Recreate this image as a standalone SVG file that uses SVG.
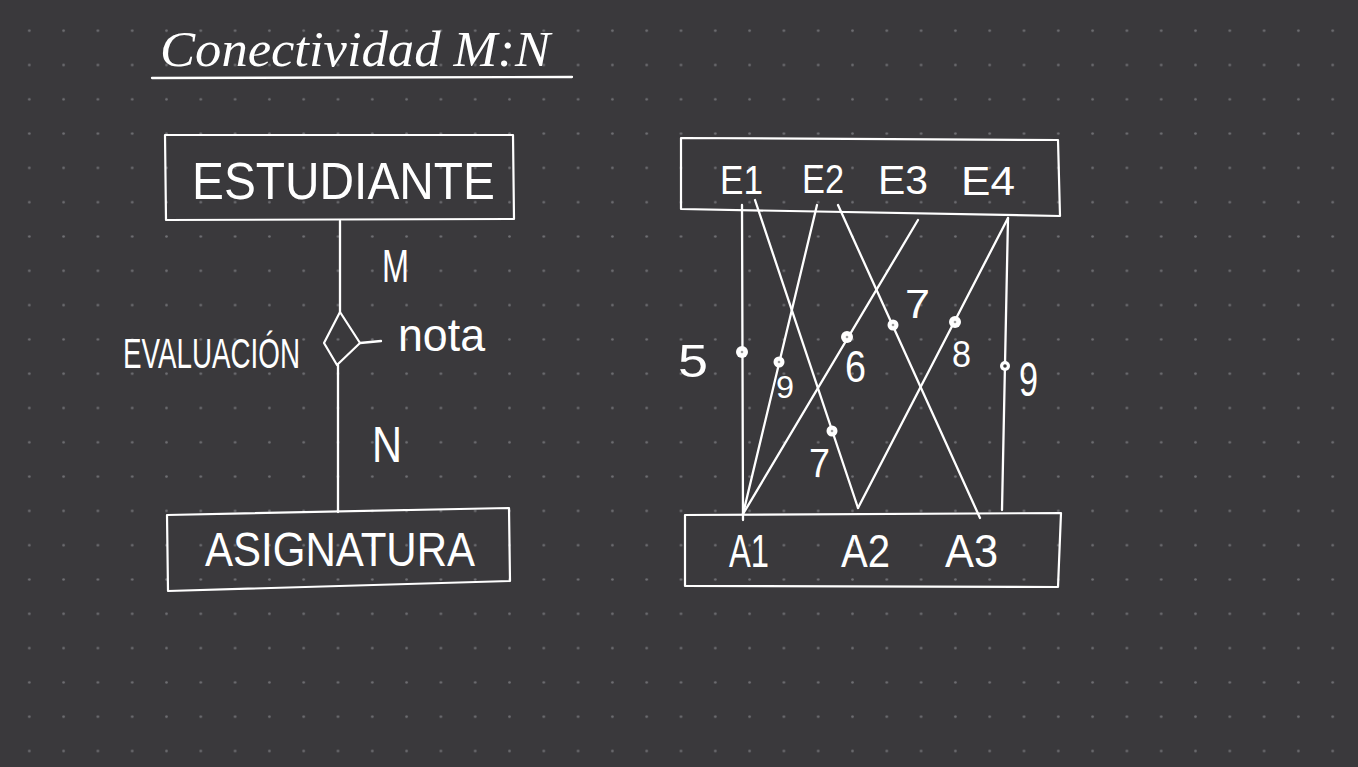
<svg xmlns="http://www.w3.org/2000/svg" width="1358" height="767" viewBox="0 0 1358 767">
  <defs>
    <pattern id="grid" patternUnits="userSpaceOnUse" x="12.15" y="13.55" width="34.3" height="34.3">
      <circle cx="17.15" cy="17.15" r="1.3" fill="#707074"/>
    </pattern>
    <style>
      .bg { fill: #3a393c; }
      .box { fill: none; stroke: #ffffff; stroke-width: 2.2; stroke-linejoin: round; }
      .ln { fill: none; stroke: #ffffff; stroke-width: 2.3; stroke-linecap: round; }
      .t { fill: #ffffff; font-family: "Liberation Sans", "DejaVu Sans", sans-serif; }
      .title { fill: #ffffff; font-family: "Liberation Serif", serif; font-style: italic; }
      .dot { fill: #ffffff; }
      .dotc { fill: #9a9a9a; }
    </style>
  </defs>
  <rect class="bg" x="0" y="0" width="1358" height="767"/>
  <rect x="0" y="0" width="1358" height="767" fill="url(#grid)"/>

  <g id="title">
    <text class="title" x="160" y="66" font-size="50" textLength="390" lengthAdjust="spacingAndGlyphs">Conectividad M:N</text>
    <line class="ln" x1="152" y1="78" x2="572" y2="77"/>
  </g>

  <!-- Left ER diagram -->
  <g id="connectors-er">
    <line class="ln" x1="340" y1="221" x2="340" y2="312"/>
    <line class="ln" x1="338" y1="365" x2="338" y2="512"/>
    <line class="ln" x1="360" y1="343" x2="381" y2="341"/>
  </g>

  <g id="estudiante">
    <polygon class="box" points="165,135 513,135 514,219 166,220"/>
    <text class="t" x="192" y="199" font-size="52" textLength="303" lengthAdjust="spacingAndGlyphs">ESTUDIANTE</text>
  </g>

  <g id="evaluacion">
    <polygon class="box" points="340,312 360,343 337,365 324,343"/>
    <text class="t" x="123" y="368" font-size="42" textLength="177" lengthAdjust="spacingAndGlyphs">EVALUACIÓN</text>
    <text class="t" x="398" y="351" font-size="46" textLength="87" lengthAdjust="spacingAndGlyphs">nota</text>
  </g>

  <g id="cardinalities">
    <text class="t" x="382" y="282" font-size="46" textLength="27" lengthAdjust="spacingAndGlyphs">M</text>
    <text class="t" x="372" y="462" font-size="50" textLength="30" lengthAdjust="spacingAndGlyphs">N</text>
  </g>

  <g id="asignatura">
    <polygon class="box" points="167,515 509,508 510,581 168,591"/>
    <text class="t" x="205" y="566" font-size="48" textLength="270" lengthAdjust="spacingAndGlyphs">ASIGNATURA</text>
  </g>

  <!-- Right instance diagram -->
  <g id="connectors">
    <line class="ln" x1="742" y1="205" x2="743" y2="520"/>
    <line class="ln" x1="755" y1="200" x2="858" y2="508"/>
    <line class="ln" x1="817" y1="205" x2="743" y2="514"/>
    <line class="ln" x1="838" y1="205" x2="980" y2="518"/>
    <line class="ln" x1="918" y1="220" x2="743" y2="514"/>
    <line class="ln" x1="1008" y1="218" x2="858" y2="508"/>
    <line class="ln" x1="1008" y1="218" x2="1002" y2="510"/>
  </g>

  <g id="estudiantes-set">
    <polygon class="box" points="681,138 1058,140 1060,216 681,209"/>
    <text class="t" x="720" y="194" font-size="40" textLength="43" lengthAdjust="spacingAndGlyphs">E1</text>
    <text class="t" x="802" y="193" font-size="40" textLength="42" lengthAdjust="spacingAndGlyphs">E2</text>
    <text class="t" x="878" y="194" font-size="40" textLength="50" lengthAdjust="spacingAndGlyphs">E3</text>
    <text class="t" x="961" y="195" font-size="40" textLength="54" lengthAdjust="spacingAndGlyphs">E4</text>
  </g>

  <g id="asignaturas-set">
    <polygon class="box" points="685,515 1061,513 1058,587 685,586"/>
    <text class="t" x="729" y="567" font-size="46" textLength="40" lengthAdjust="spacingAndGlyphs">A1</text>
    <text class="t" x="841" y="567" font-size="46" textLength="49" lengthAdjust="spacingAndGlyphs">A2</text>
    <text class="t" x="945" y="567" font-size="46" textLength="53" lengthAdjust="spacingAndGlyphs">A3</text>
  </g>

  <g id="grades">
    <circle class="dot" cx="742" cy="352" r="6"/><circle class="dotc" cx="742" cy="352" r="1.3"/>
    <circle class="dot" cx="779" cy="362" r="5.5"/><circle class="dotc" cx="779" cy="362" r="1.3"/>
    <circle class="dot" cx="832" cy="431" r="5.5"/><circle class="dotc" cx="832" cy="431" r="1.3"/>
    <circle class="dot" cx="847" cy="337" r="6"/><circle class="dotc" cx="847" cy="337" r="1.3"/>
    <circle class="dot" cx="893" cy="325" r="5.5"/><circle class="dotc" cx="893" cy="325" r="1.3"/>
    <circle class="dot" cx="955" cy="322" r="6"/><circle class="dotc" cx="955" cy="322" r="1.3"/>
    <circle class="dot" cx="1005" cy="366" r="5"/><circle cx="1005" cy="366" r="1.8" fill="#3a393c"/>

    <text class="t" x="678" y="377" font-size="46" textLength="30" lengthAdjust="spacingAndGlyphs">5</text>
    <text class="t" x="776" y="398" font-size="32" textLength="18" lengthAdjust="spacingAndGlyphs">9</text>
    <text class="t" x="809" y="477" font-size="40" textLength="21" lengthAdjust="spacingAndGlyphs">7</text>
    <text class="t" x="845" y="382" font-size="44" textLength="21" lengthAdjust="spacingAndGlyphs">6</text>
    <text class="t" x="905" y="318" font-size="40" textLength="25" lengthAdjust="spacingAndGlyphs">7</text>
    <text class="t" x="952" y="367" font-size="36" textLength="19" lengthAdjust="spacingAndGlyphs">8</text>
    <text class="t" x="1019" y="396" font-size="48" textLength="19" lengthAdjust="spacingAndGlyphs">9</text>
  </g>
</svg>
